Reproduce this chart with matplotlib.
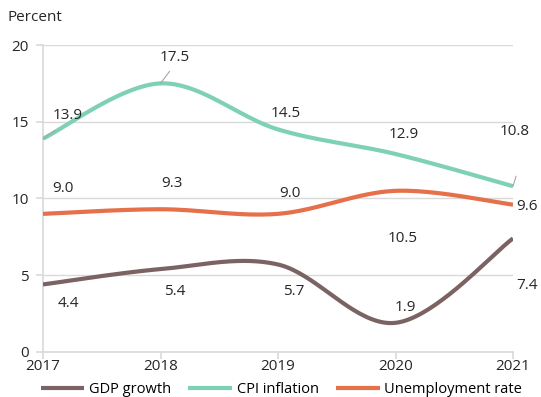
import numpy as np
import matplotlib
matplotlib.use("Agg")
import matplotlib.pyplot as plt

years = [2017, 2018, 2019, 2020, 2021]
gdp = [4.4, 5.4, 5.7, 1.9, 7.4]
cpi = [13.9, 17.5, 14.5, 12.9, 10.8]
unemp = [9.0, 9.3, 9.0, 10.5, 9.6]

# label offsets in pixels (dx, dy) relative to each point
gdp_off = [(25, -19), (14, -22), (16, -27), (10, 15), (14, -47)]
cpi_off = [(25, 23), (14, 26), (8, 16), (8, 19), (2, 55)]
unemp_off = [(20, 25), (11, 26), (12, 20), (7, -48), (14, -2)]

plt.rcParams['font.family'] = ['Open Sans', 'DejaVu Sans']
FS = 11


def smooth(x, y, n=40):
    # Excel-like smoothed line (Catmull-Rom bezier)
    x = np.asarray(x, float)
    y = np.asarray(y, float)
    px = np.concatenate([[x[0]], x, [x[-1]]])
    py = np.concatenate([[y[0]], y, [y[-1]]])
    xs, ys = [], []
    t = np.linspace(0, 1, n)
    for i in range(1, len(px) - 2):
        p0 = np.array([px[i], py[i]])
        p3 = np.array([px[i + 1], py[i + 1]])
        p1 = p0 + (np.array([px[i + 1], py[i + 1]]) - np.array([px[i - 1], py[i - 1]])) / 6
        p2 = p3 - (np.array([px[i + 2], py[i + 2]]) - np.array([px[i], py[i]])) / 6
        b = ((1 - t) ** 3)[:, None] * p0 + (3 * (1 - t) ** 2 * t)[:, None] * p1 \
            + (3 * (1 - t) * t ** 2)[:, None] * p2 + (t ** 3)[:, None] * p3
        xs.extend(b[:, 0])
        ys.extend(b[:, 1])
    return xs, ys


fig = plt.figure(figsize=(5.41, 3.97), dpi=100)
ax = fig.add_axes([0.0795, 0.1134, 0.8688, 0.7732])

series = [
    ("GDP growth", gdp, "#7b6363", gdp_off),
    ("CPI inflation", cpi, "#7fd1b5", cpi_off),
    ("Unemployment rate", unemp, "#e6704a", unemp_off),
]
for name, vals, col, offs in series:
    sx, sy = smooth(years, vals)
    ax.plot(sx, sy, color=col, lw=3, label=name, solid_capstyle='butt', zorder=3)
    for x, v, (dx, dy) in zip(years, vals, offs):
        ax.annotate(f"{v:.1f}", (x, v), xytext=(dx, dy), textcoords='offset pixels',
                    ha='center', va='center', fontsize=FS, color='#262626', zorder=4)

# leader lines for a few labels
for x, v, (dx, dy) in [(2017, 13.9, (12, 8)), (2018, 17.5, (9, 12)), (2021, 10.8, (3, 10))]:
    ax.annotate("", (x, v), xytext=(dx, dy), textcoords='offset pixels',
                arrowprops=dict(arrowstyle='-', color='#a6a6a6', lw=0.8, shrinkA=0, shrinkB=0))

ax.set_xlim(2017, 2021)
ax.set_ylim(0, 20)
ax.set_xticks(years)
ax.set_yticks([0, 5, 10, 15, 20])
ax.grid(axis='y', color='#d9d9d9', lw=1)
ax.set_axisbelow(True)
for s in ['top', 'right']:
    ax.spines[s].set_visible(False)
for s in ['left', 'bottom']:
    ax.spines[s].set_color('#d9d9d9')
    ax.spines[s].set_linewidth(1.2)
ax.tick_params(axis='both', colors='#d9d9d9', labelcolor='#262626', labelsize=FS, length=5, width=1.2)
ax.tick_params(axis='y', length=5, pad=5)
ax.tick_params(axis='x', pad=0)

fig.text(0.013, 0.955, "Percent", fontsize=FS, color='#262626', va='center')

fig.legend(loc='lower center', bbox_to_anchor=(0.52, -0.025), ncol=3, frameon=False,
           fontsize=10.5, handlelength=3.0, columnspacing=1.2, handletextpad=0.3,
           borderaxespad=0.3)

fig.savefig("out.png", dpi=100)
